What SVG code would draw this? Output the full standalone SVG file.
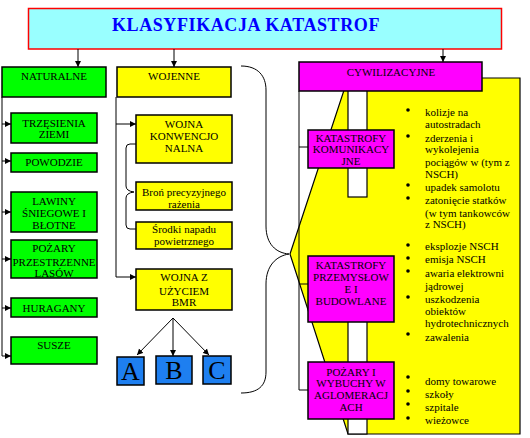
<svg xmlns="http://www.w3.org/2000/svg" width="530" height="438" viewBox="0 0 530 438">
<defs>
<marker id="ah" markerWidth="7" markerHeight="7" refX="6" refY="3.5" orient="auto" markerUnits="userSpaceOnUse"><path d="M0,0.5 L6,3.5 L0,6.5 Z" fill="#000"/></marker>
<style>
.b{stroke:#000;stroke-width:1.5}
.g{fill:#00ff00}
.y{fill:#ffff00}
.m{fill:#ff00ff}
.bl{fill:#1e7ff0}
.t{font-family:"Liberation Serif","Times New Roman",serif;font-size:11px;text-anchor:middle;fill:#000}
.l{font-family:"Liberation Serif","Times New Roman",serif;font-size:11px;fill:#000}
.big{font-family:"Liberation Serif","Times New Roman",serif;font-size:26px;text-anchor:middle;fill:#000}
.ln{stroke:#000;stroke-width:1;fill:none}
.ar{stroke:#000;stroke-width:1;fill:none;marker-end:url(#ah)}
</style>
</defs>
<rect width="530" height="438" fill="#fff"/>

<g id="title">
<rect x="28.5" y="8.5" width="473" height="40.5" fill="#99ffff" stroke="#ff0000" stroke-width="1.5"/>
<text x="246" y="30.5" font-family="'Liberation Serif','Times New Roman',serif" font-size="18" font-weight="bold" letter-spacing="0.6" fill="#0000ff" text-anchor="middle">KLASYFIKACJA KATASTROF</text>
</g>

<g id="callout">
<path d="M348,78 H520 V434 H348 L290,254 Z" fill="#ffff00" stroke="#000" stroke-width="1.2"/>
<rect x="348" y="80" width="19" height="117" fill="#fff" stroke="#000" stroke-width="1.2"/>
<rect x="348" y="300" width="19" height="134" fill="#fff" stroke="#000" stroke-width="1.2"/>
</g>

<g id="connectors">
<line class="ar" x1="78" y1="49" x2="78" y2="67"/>
<line class="ar" x1="174" y1="49" x2="174" y2="67"/>
<line class="ar" x1="443" y1="49" x2="443" y2="62"/>
<path class="ln" d="M2,97 V356"/>
<line class="ar" x1="2" y1="124" x2="11" y2="124"/>
<line class="ar" x1="2" y1="161" x2="11" y2="161"/>
<line class="ar" x1="2" y1="212" x2="11" y2="212"/>
<line class="ar" x1="2" y1="259" x2="11" y2="259"/>
<line class="ar" x1="2" y1="308" x2="11" y2="308"/>
<line class="ar" x1="2" y1="356" x2="11" y2="356"/>
<path class="ln" d="M116,97 V277"/>
<line class="ar" x1="116" y1="124" x2="136" y2="124"/>
<line class="ar" x1="116" y1="277" x2="136" y2="277"/>
<path class="ln" d="M136,144 H130 Q126,144 126,148 V186 Q126,191 134,192 Q126,193 126,198 V225 Q126,229 130,229 H136"/>
<line class="ar" x1="173" y1="318" x2="137" y2="355"/>
<line class="ar" x1="173" y1="318" x2="173" y2="356"/>
<line class="ar" x1="173" y1="318" x2="209" y2="355"/>
<path class="ln" d="M241,66 C258,66 266,76 266,90 L266,226 C266,244 276,253 289,254 C276,256 266,266 266,284 L266,372 C266,386 258,393 241,393"/>
<path class="ln" d="M299,91 V390 H308 M299,147 H308 M299,284 H308"/>
</g>

<g id="naturalne">
<rect class="b g" x="2" y="67" width="104" height="30"/>
<text class="t" x="54" y="80">NATURALNE</text>
</g>
<g id="wojenne">
<rect class="b y" x="117" y="67" width="114" height="30"/>
<text class="t" x="174" y="80">WOJENNE</text>
</g>
<g id="cywilizacyjne">
<rect class="b m" x="299" y="62" width="183" height="29"/>
<text class="t" x="391" y="76">CYWILIZACYJNE</text>
</g>

<g id="trzesienia">
<rect class="b g" x="11" y="113" width="86" height="30"/>
<text class="t" x="54" y="127">TRZĘSIENIA</text>
<text class="t" x="54" y="138">ZIEMI</text>
</g>
<g id="powodzie">
<rect class="b g" x="11" y="153" width="86" height="19"/>
<text class="t" x="54" y="166">POWODZIE</text>
</g>
<g id="lawiny">
<rect class="b g" x="11" y="192" width="86" height="40"/>
<text class="t" x="54" y="205">LAWINY</text>
<text class="t" x="54" y="217">ŚNIEGOWE I</text>
<text class="t" x="54" y="229">BŁOTNE</text>
</g>
<g id="pozary-lasow">
<rect class="b g" x="11" y="240" width="86" height="38"/>
<text class="t" x="54" y="252">POŻARY</text>
<text class="t" x="54" y="265.5">PRZESTRZENNE</text>
<text class="t" x="54" y="276.5">LASÓW</text>
</g>
<g id="huragany">
<rect class="b g" x="11" y="298" width="86" height="19"/>
<text class="t" x="54" y="312">HURAGANY</text>
</g>
<g id="susze">
<rect class="b g" x="11" y="337" width="86" height="27"/>
<text class="t" x="54" y="349">SUSZE</text>
</g>

<g id="wojna-konwencjonalna">
<rect class="b y" x="136" y="115" width="96" height="48"/>
<text class="t" x="184" y="128">WOJNA</text>
<text class="t" x="184" y="140">KONWENCJO</text>
<text class="t" x="184" y="152">NALNA</text>
</g>
<g id="bron">
<rect class="b y" x="136" y="182" width="96" height="28"/>
<text class="t" x="184" y="196">Broń precyzyjnego</text>
<text class="t" x="184" y="208">rażenia</text>
</g>
<g id="srodki">
<rect class="b y" x="136" y="222" width="96" height="27"/>
<text class="t" x="184" y="233">Środki napadu</text>
<text class="t" x="184" y="245">powietrznego</text>
</g>
<g id="wojna-bmr">
<rect class="b y" x="136" y="269" width="96" height="41"/>
<text class="t" x="184" y="281">WOJNA Z</text>
<text class="t" x="184" y="294.5">UŻYCIEM</text>
<text class="t" x="184" y="306">BMR</text>
</g>
<g id="a">
<rect class="b bl" x="117" y="357" width="27" height="28"/>
<text class="big" x="130.5" y="380">A</text>
</g>
<g id="b">
<rect class="b bl" x="156" y="356" width="36" height="28"/>
<text class="big" x="174" y="379">B</text>
</g>
<g id="c">
<rect class="b bl" x="203" y="356" width="28" height="28"/>
<text class="big" x="217" y="379">C</text>
</g>

<g id="komunikacyjne">
<rect class="b m" x="308" y="130" width="86" height="38"/>
<text class="t" x="351" y="142">KATASTROFY</text>
<text class="t" x="351" y="153">KOMUNIKACY</text>
<text class="t" x="351" y="165">JNE</text>
</g>
<g id="przemyslowe">
<rect class="b m" x="308" y="256" width="86" height="66"/>
<text class="t" x="351" y="269">KATASTROFY</text>
<text class="t" x="351" y="281">PRZEMYSŁOW</text>
<text class="t" x="351" y="293">E I</text>
<text class="t" x="351" y="305">BUDOWLANE</text>
</g>
<g id="aglomeracje">
<rect class="b m" x="308" y="362" width="86" height="57"/>
<text class="t" x="351" y="376">POŻARY I</text>
<text class="t" x="351" y="387">WYBUCHY W</text>
<text class="t" x="351" y="399">AGLOMERACJ</text>
<text class="t" x="351" y="411">ACH</text>
</g>

<g id="lista">
<g fill="#000">
<circle cx="408" cy="110" r="1.8"/>
<circle cx="408" cy="136" r="1.8"/>
<circle cx="408" cy="185" r="1.8"/>
<circle cx="408" cy="198" r="1.8"/>
<circle cx="408" cy="245" r="1.8"/>
<circle cx="408" cy="258" r="1.8"/>
<circle cx="408" cy="271" r="1.8"/>
<circle cx="408" cy="297" r="1.8"/>
<circle cx="408" cy="334" r="1.8"/>
<circle cx="408" cy="377" r="1.8"/>
<circle cx="408" cy="391" r="1.8"/>
<circle cx="408" cy="404" r="1.8"/>
<circle cx="408" cy="418" r="1.8"/>
</g>
<text class="l" x="425" y="116">kolizje na</text>
<text class="l" x="425" y="128">autostradach</text>
<text class="l" x="425" y="142">zderzenia i</text>
<text class="l" x="425" y="153">wykolejenia</text>
<text class="l" x="425" y="166">pociągów w (tym z</text>
<text class="l" x="425" y="178">NSCH)</text>
<text class="l" x="425" y="191">upadek samolotu</text>
<text class="l" x="425" y="204">zatonięcie statków</text>
<text class="l" x="425" y="217">(w tym tankowców</text>
<text class="l" x="425" y="228">z NSCH)</text>
<text class="l" x="425" y="250">eksplozje NSCH</text>
<text class="l" x="425" y="263">emisja NSCH</text>
<text class="l" x="425" y="277">awaria elektrowni</text>
<text class="l" x="425" y="290">jądrowej</text>
<text class="l" x="425" y="303">uszkodzenia</text>
<text class="l" x="425" y="315">obiektów</text>
<text class="l" x="425" y="327">hydrotechnicznych</text>
<text class="l" x="425" y="341">zawalenia</text>
<text class="l" x="425" y="385">domy towarowe</text>
<text class="l" x="425" y="398">szkoły</text>
<text class="l" x="425" y="411">szpitale</text>
<text class="l" x="425" y="424">wieżowce</text>
</g>
</svg>
